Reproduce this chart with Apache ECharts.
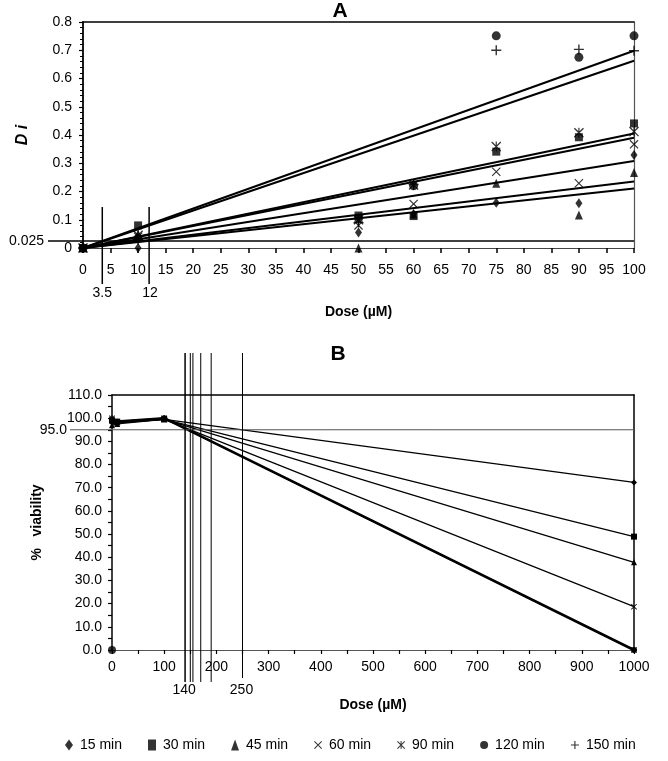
<!DOCTYPE html>
<html><head><meta charset="utf-8">
<script src="https://cdn.jsdelivr.net/npm/echarts@6/dist/echarts.min.js"></script>
<style>html,body{margin:0;padding:0;background:#fff}#c{width:668px;height:761px}</style>
</head><body><div id="c"></div>
<script>
// ---------- DATA ----------
const seriesNames = ['15 min', '30 min', '45 min', '60 min', '90 min', '120 min', '150 min'];

// Panel A: Di vs dose (µM)
const doseA = [0, 10, 50, 60, 75, 90, 100];
const di15  = [0, 0,     0.055, 0.12,  0.16,  0.158, 0.329];
const di30  = [0, 0.08,  0.115, 0.113, 0.341, 0.392, 0.441];
const di45  = [0, 0.05,  0,     0.12,  0.229, 0.117, 0.267];
const di60  = [0, 0.04,  0.08,  0.156, 0.27,  0.229, 0.367];
const di90  = [0, 0.045, 0.10,  0.223, 0.359, 0.408, 0.412];
const di120 = [0, 0.035, 0.105, 0.22,  0.751, 0.675, 0.751];
const di150 = [0, 0.03,  0.09,  0.225, 0.70,  0.703, 0.698];

// Panel A: fitted trend lines (endpoints)
const trendDoseA = [0, 100];
const trend15  = [0, 0.211];
const trend30  = [0, 0.39];
const trend45  = [0, 0.308];
const trend60  = [0, 0.235];
const trend90  = [0, 0.405];
const trend120 = [0, 0.663];
const trend150 = [0, 0.698];

const diThreshold = 0.025;
const doseCutsA = [3.5, 12];

// Panel B: % viability vs dose (µM)
const doseB = [0, 10, 100, 1000];
const via15  = [98,   98,   99.5, 72.3];
const via30  = [99,   98.5, 99.5, 48.9];
const via45  = [97,   97.5, 99.5, 37.8];
const via60  = [99.5, 98,   99.5, 18.7];
const via90  = [100,  98.5, 100,  0];
const via120 = [99,   98.5, 100,  0];
const via150 = [100,  98,   100,  0];
const controlZeroB = [0, 0];

const viaThreshold = 95;
const doseCutsB = [140, 150, 155, 170, 190, 250];
const doseCutLabelsB = [140, 250];

const yTicksA = [0, 0.8, 0.1];
const yTicksB = [0, 110, 10];

// ---------- STYLE ----------
const FONT = 'Liberation Sans, Arial, sans-serif';
const X_PATH = 'path://M0,0.9L0.9,0L10,9.1L9.1,10Z M0.9,10L0,9.1L9.1,0L10,0.9Z';
const STAR_PATH = 'path://M0,0.9L0.9,0L10,9.1L9.1,10Z M0.9,10L0,9.1L9.1,0L10,0.9Z M4.4,0L5.6,0L5.6,10L4.4,10Z';
const PLUS_PATH = 'path://M4.3,0L5.7,0L5.7,10L4.3,10Z M0,4.3L10,4.3L10,5.7L0,5.7Z';
const symbols = ['diamond', 'rect', 'triangle', X_PATH, STAR_PATH, 'circle', PLUS_PATH];
const sizesA = [[7, 10], 8, [8, 9], 9, 10, 9, 10];
const diArr = [di15, di30, di45, di60, di90, di120, di150];
const trendArr = [trend15, trend30, trend45, trend60, trend90, trend120, trend150];
const viaArr = [via15, via30, via45, via60, via90, via120, via150];
const widthsB = [1.2, 1.2, 1.2, 1.2, 2.6, 1.2, 1.2];

const chart = echarts.init(document.getElementById('c'));
const series = [];
seriesNames.forEach((n, i) => {
  series.push({
    name: n, type: 'scatter', xAxisIndex: 0, yAxisIndex: 0,
    symbol: symbols[i], symbolSize: sizesA[i],
    itemStyle: { color: '#000' }, z: 5,
    data: doseA.map((d, k) => [d, diArr[i][k]])
  });
});
seriesNames.forEach((n, i) => {
  series.push({
    name: n, type: 'line', xAxisIndex: 0, yAxisIndex: 0, showSymbol: false, symbol: 'none',
    lineStyle: { color: '#000', width: 2 }, itemStyle: { color: '#000' },
    data: trendDoseA.map((d, k) => [d, trendArr[i][k]])
  });
});
seriesNames.forEach((n, i) => {
  series.push({
    name: n, type: 'line', xAxisIndex: 2, yAxisIndex: 2,
    symbol: symbols[i], symbolSize: 6, showAllSymbol: true,
    lineStyle: { color: '#000', width: widthsB[i] }, itemStyle: { color: '#000' },
    data: doseB.map((d, k) => [d, viaArr[i][k]])
  });
});
series.push({
  name: '120 min', type: 'scatter', xAxisIndex: 2, yAxisIndex: 2,
  symbol: 'circle', symbolSize: 8, itemStyle: { color: '#000' },
  data: [controlZeroB]
});

const labelStyle = { color: '#000', fontSize: 14, fontFamily: FONT };
const blank = { show: false };

const option = {
  animation: false,
  backgroundColor: '#fff',
  grid: [
    { left: 83, top: 22, width: 551, height: 226 },
    { left: 112, top: 395, width: 522, height: 255 }
  ],
  xAxis: [
    { gridIndex: 0, type: 'value', min: 0, max: 100, interval: 5, position: 'bottom',
      name: 'Dose (µM)', nameLocation: 'middle', nameGap: 57,
      nameTextStyle: { color: '#000', fontSize: 14, fontWeight: 'bold', fontFamily: FONT },
      axisLine: { onZero: false, lineStyle: { color: '#444', width: 1.2 } },
      axisTick: { show: true, length: 5, lineStyle: { color: '#000', width: 1.5 } },
      axisLabel: Object.assign({ margin: 15 }, labelStyle),
      splitLine: blank },
    { gridIndex: 0, type: 'value', min: 0, max: 100, position: 'top',
      axisLine: { onZero: false, lineStyle: { color: '#000', width: 1.5 } },
      axisTick: blank, axisLabel: blank, splitLine: blank },
    { gridIndex: 1, type: 'value', min: 0, max: 1000, interval: 50, position: 'bottom',
      name: 'Dose (µM)', nameLocation: 'middle', nameGap: 48,
      nameTextStyle: { color: '#000', fontSize: 14, fontWeight: 'bold', fontFamily: FONT },
      axisLine: { onZero: false, lineStyle: { color: '#555', width: 1.2 } },
      axisTick: { show: true, length: 4, lineStyle: { color: '#000', width: 1.2 } },
      axisLabel: Object.assign({ margin: 10, formatter: v => (v % 100 === 0 ? String(v) : '') }, labelStyle),
      splitLine: blank },
    { gridIndex: 1, type: 'value', min: 0, max: 1000, position: 'top',
      axisLine: { onZero: false, lineStyle: { color: '#000', width: 1.5 } },
      axisTick: blank, axisLabel: blank, splitLine: blank }
  ],
  yAxis: [
    { gridIndex: 0, type: 'value', min: yTicksA[0], max: yTicksA[1], interval: yTicksA[2], position: 'left',
      name: 'D i', nameLocation: 'middle', nameGap: 52,
      nameTextStyle: { color: '#000', fontSize: 16, fontWeight: 'bold', fontStyle: 'italic', fontFamily: FONT },
      axisLine: { onZero: false, lineStyle: { color: '#000', width: 1.8 } },
      axisTick: { show: true, length: 4, lineStyle: { color: '#000', width: 1.2 } },
      minorTick: { show: true, splitNumber: 5, length: 3, lineStyle: { color: '#000', width: 1 } },
      axisLabel: Object.assign({ margin: 11, formatter: v => String(Math.round(v * 10) / 10) }, labelStyle),
      splitLine: blank },
    { gridIndex: 0, type: 'value', min: yTicksA[0], max: yTicksA[1], position: 'right',
      axisLine: { onZero: false, lineStyle: { color: '#555', width: 1.2 } },
      axisTick: blank, axisLabel: blank, splitLine: blank },
    { gridIndex: 1, type: 'value', min: yTicksB[0], max: yTicksB[1], interval: yTicksB[2], position: 'left',
      name: '%   viability', nameLocation: 'middle', nameGap: 68,
      nameTextStyle: { color: '#000', fontSize: 14, fontWeight: 'bold', fontFamily: FONT },
      axisLine: { onZero: false, lineStyle: { color: '#000', width: 1.5 } },
      axisTick: { show: true, length: 4, lineStyle: { color: '#000', width: 1.2 } },
      minorTick: { show: true, splitNumber: 2, length: 4, lineStyle: { color: '#000', width: 1.2 } },
      axisLabel: Object.assign({ margin: 10, formatter: v => v.toFixed(1) }, labelStyle),
      splitLine: blank },
    { gridIndex: 1, type: 'value', min: yTicksB[0], max: yTicksB[1], position: 'right',
      axisLine: { onZero: false, lineStyle: { color: '#000', width: 1.5 } },
      axisTick: blank, axisLabel: blank, splitLine: blank }
  ],
  legend: {
    left: 60, top: 733, itemWidth: 8, itemHeight: 11, itemGap: 26, selectedMode: false,
    textStyle: { color: '#000', fontSize: 14, fontFamily: FONT, padding: [0, 0, 0, 2] },
    data: seriesNames.map((n, i) => ({ name: n, icon: symbols[i], itemStyle: { color: '#000' } }))
  },
  series: series
};
chart.setOption(option);

// ---------- reference lines and annotations (positions via the axes' scales) ----------
const pA = (x, y) => chart.convertToPixel({ xAxisIndex: 0, yAxisIndex: 0 }, [x, y]);
const pB = (x, y) => chart.convertToPixel({ xAxisIndex: 2, yAxisIndex: 2 }, [x, y]);
const g = [];
const txt = (x, y, s, opt) => g.push({ type: 'text', x: x, y: y, silent: true,
  style: Object.assign({ text: s, fill: '#000', font: '14px ' + FONT, textAlign: 'center', textVerticalAlign: 'middle' }, opt || {}) });
const ln = (x1, y1, x2, y2, w, c) => g.push({ type: 'line', silent: true, z: 10,
  shape: { x1: x1, y1: y1, x2: x2, y2: y2 }, style: { stroke: c || '#000', lineWidth: w } });

// Panel A
const a0 = pA(0, 0), a1 = pA(100, diThreshold);
ln(48, a1[1], a1[0], a1[1], 1.5);
txt(44, a1[1], String(diThreshold), { textAlign: 'right' });
const cutTop = pA(0, 0.145)[1];
doseCutsA.forEach((d, i) => {
  const px = pA(d, 0)[0];
  ln(px, cutTop, px, a0[1] + 36, 1.5);
  txt(px + (i === 0 ? 0 : 1), a0[1] + 45, String(d));
});
txt(340, 11, 'A', { font: 'bold 21px ' + FONT });

// Panel B
const b0 = pB(0, 0), bTop = pB(0, 110), b95 = pB(1000, viaThreshold);
ln(70, b95[1], b95[0], b95[1], 1, '#555');
txt(67, b95[1], viaThreshold.toFixed(1), { textAlign: 'right' });
doseCutsB.forEach((d, i) => {
  const px = pB(d, 0)[0];
  ln(px, bTop[1] - 42, px, b0[1] + (d === 250 ? 28 : 32), i === 0 ? 1.5 : 1);
});
doseCutLabelsB.forEach(d => {
  const px = pB(d, 0)[0];
  txt(px - 1, b0[1] + 40, String(d));
});
txt(338, 354, 'B', { font: 'bold 21px ' + FONT });

chart.setOption({ graphic: { elements: g } });
</script>
</body></html>
